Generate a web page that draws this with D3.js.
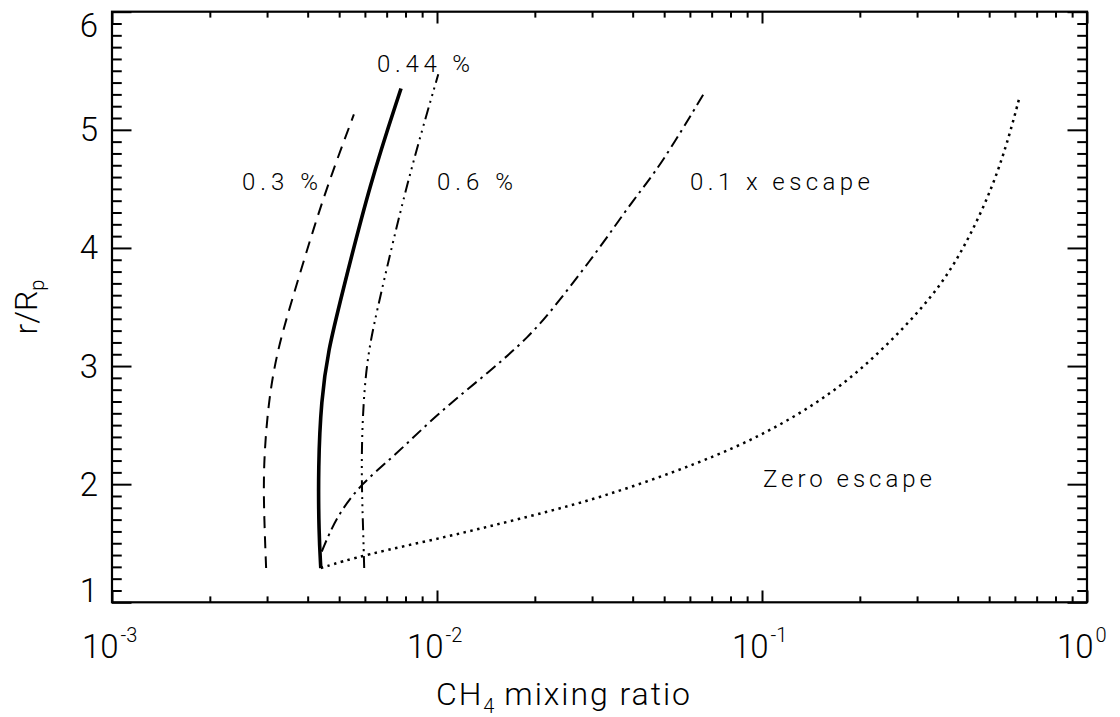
<!DOCTYPE html>
<html>
<head>
<meta charset="utf-8">
<script src="https://cdn.jsdelivr.net/npm/d3@7"></script>
<style>
body { margin: 0; background: #fff; }
text { font-family: "Roboto", "DejaVu Sans", sans-serif; font-weight: 300; fill: #000; }
</style>
</head>
<body>
<div id="chart"></div>
<script>
// CH4 mixing ratio profiles, r/Rp against mixing ratio
var r044 = [1.29, 1.58, 2.15, 2.71, 3.14, 3.56, 4.55, 5.35];
var x044 = [0.00439, 0.00433, 0.00431, 0.00440, 0.00463, 0.00505, 0.00622, 0.00775];

var r03 = [1.29, 1.70, 2.15, 2.71, 3.14, 3.56, 4.07, 4.55, 5.13];
var x03 = [0.00298, 0.00294, 0.00292, 0.00303, 0.00323, 0.00358, 0.00407, 0.00463, 0.00555];

var r06 = [1.29, 1.59, 2.15, 2.71, 3.14, 3.56, 4.55, 5.47];
var x06 = [0.00597, 0.00593, 0.00584, 0.00593, 0.00615, 0.00665, 0.00807, 0.01009];

var rEsc01 = [1.43, 1.73, 2.01, 2.23, 2.59, 2.91, 3.25, 3.56, 4.00, 4.41, 4.69, 5.30];
var xEsc01 = [0.00442, 0.00491, 0.00587, 0.00734, 0.00998, 0.01388, 0.01933, 0.0239, 0.0317, 0.0402, 0.0486, 0.0660];

var rZero = [1.29, 1.40, 1.56, 1.70, 1.88, 2.18, 2.43, 2.77, 3.14, 3.59, 3.98, 4.52, 4.97, 5.27];
var xZero = [0.00439, 0.00593, 0.01096, 0.01758, 0.0317, 0.0645, 0.1034, 0.1657, 0.2361, 0.3366, 0.4163, 0.5148, 0.5796, 0.6191];

var yTicks = [1, 2, 3, 4, 5, 6];
var xDecades = [-3, -2, -1, 0];

var width = 1120, height = 717;
var plotLeft = 112, plotRight = 1087, plotTop = 11.7, plotBottom = 602.3;

var svg = d3.select("#chart").append("svg")
    .attr("width", width)
    .attr("height", height);

var x = d3.scaleLog().domain([1e-3, 1]).range([plotLeft, plotRight]);
var y = d3.scaleLinear().domain([1, 6]).range([plotBottom, plotTop]);

// tick positions
var xMajor = xDecades.map(function(d){ return Math.pow(10, d); });
var xMinor = [];
for (var e = -3; e < 0; e++) {
    for (var m = 2; m <= 9; m++) xMinor.push(m * Math.pow(10, e));
}
var yMinor = d3.range(10, 61).map(function(d){ return d / 10; })
    .filter(function(d){ return Math.round(d * 10) % 10 != 0; });

var xLen = 0.02 * (plotBottom - plotTop);
var yLen = 0.02 * (plotRight - plotLeft);

function drawAxis(axis, tx, ty) {
    var g = svg.append("g")
        .attr("transform", "translate(" + tx + "," + ty + ")")
        .call(axis);
    g.select(".domain").remove();
    g.selectAll("line").attr("stroke", "#000").attr("stroke-width", 2);
    g.selectAll("text").remove();
}

drawAxis(d3.axisBottom(x).tickValues(xMajor).tickSize(-xLen), 0, plotBottom);
drawAxis(d3.axisBottom(x).tickValues(xMinor).tickSize(-xLen / 2), 0, plotBottom);
drawAxis(d3.axisTop(x).tickValues(xMajor).tickSize(-xLen), 0, plotTop);
drawAxis(d3.axisTop(x).tickValues(xMinor).tickSize(-xLen / 2), 0, plotTop);
drawAxis(d3.axisLeft(y).tickValues(yTicks).tickSize(-yLen), plotLeft, 0);
drawAxis(d3.axisLeft(y).tickValues(yMinor).tickSize(-yLen / 2), plotLeft, 0);
drawAxis(d3.axisRight(y).tickValues(yTicks).tickSize(-yLen), plotRight, 0);
drawAxis(d3.axisRight(y).tickValues(yMinor).tickSize(-yLen / 2), plotRight, 0);

svg.append("rect")
    .attr("x", plotLeft).attr("y", plotTop)
    .attr("width", plotRight - plotLeft).attr("height", plotBottom - plotTop)
    .attr("fill", "none").attr("stroke", "#000").attr("stroke-width", 2.2);

// y tick labels
svg.selectAll(".ylab")
    .data(yTicks)
    .enter()
    .append("text")
    .attr("class", "ylab")
    .attr("x", 98)
    .attr("y", function(d){
        if (d == 6) return y(d) + 25.5;
        if (d == 1) return y(d);
        return y(d) + 11.5;
    })
    .attr("text-anchor", "end")
    .style("font-size", "33px")
    .text(function(d){ return d; });

// x tick labels 10^n
var xl = svg.selectAll(".xlab")
    .data(xDecades)
    .enter()
    .append("text")
    .attr("class", "xlab")
    .attr("x", function(d){ return x(Math.pow(10, d)) - 30; })
    .attr("y", 658)
    .style("font-size", "33px");
xl.append("tspan").text("10");
xl.append("tspan")
    .attr("dy", -16)
    .attr("dx", 2)
    .style("font-size", "20px")
    .text(function(d){ return d == 0 ? "0" : d; });

// axis titles
var xt = svg.append("text")
    .attr("x", 436)
    .attr("y", 705)
    .attr("textLength", 254)
    .attr("lengthAdjust", "spacing")
    .style("font-size", "32px");
xt.append("tspan").text("CH");
xt.append("tspan").attr("dy", 8).style("font-size", "20px").text("4");
xt.append("tspan").attr("dy", -8).attr("dx", 8).text("mixing ratio");

var yt = svg.append("text")
    .attr("transform", "translate(37,307) rotate(-90)")
    .attr("text-anchor", "middle")
    .style("font-size", "32px");
yt.append("tspan").text("r/R");
yt.append("tspan").attr("dy", 7).style("font-size", "20px").text("p");

// curves
var line = d3.line()
    .x(function(d){ return x(d[0]); })
    .y(function(d){ return y(d[1]); })
    .curve(d3.curveBasis);

var curves = [
    {xs: x03, rs: r03, w: 2, dash: "12,8"},
    {xs: x044, rs: r044, w: 3.6, dash: null},
    {xs: x06, rs: r06, w: 2, dash: "12,5,2,5,2,5,2,5"},
    {xs: xEsc01, rs: rEsc01, w: 2, dash: "12,5,2.5,5"},
    {xs: xZero, rs: rZero, w: 2.5, dash: "2.5,4.5"}
];

curves.forEach(function(c){
    var pts = c.xs.map(function(v, i){ return [v, c.rs[i]]; });
    svg.append("path")
        .datum(pts)
        .attr("d", line)
        .attr("fill", "none")
        .attr("stroke", "#000")
        .attr("stroke-width", c.w)
        .attr("stroke-dasharray", c.dash);
});

// curve labels
var notes = [
    {t: "0.44 %", x: 377, y: 72, len: 93},
    {t: "0.3 %", x: 242, y: 190, len: 76},
    {t: "0.6 %", x: 437, y: 190, len: 76},
    {t: "0.1 x escape", x: 690, y: 190, len: 180},
    {t: "Zero escape", x: 763, y: 487, len: 169}
];
svg.selectAll(".note")
    .data(notes)
    .enter()
    .append("text")
    .attr("class", "note")
    .attr("x", function(d){ return d.x; })
    .attr("y", function(d){ return d.y; })
    .attr("textLength", function(d){ return d.len; })
    .attr("lengthAdjust", "spacing")
    .style("font-size", "24px")
    .text(function(d){ return d.t; });
</script>
</body>
</html>
